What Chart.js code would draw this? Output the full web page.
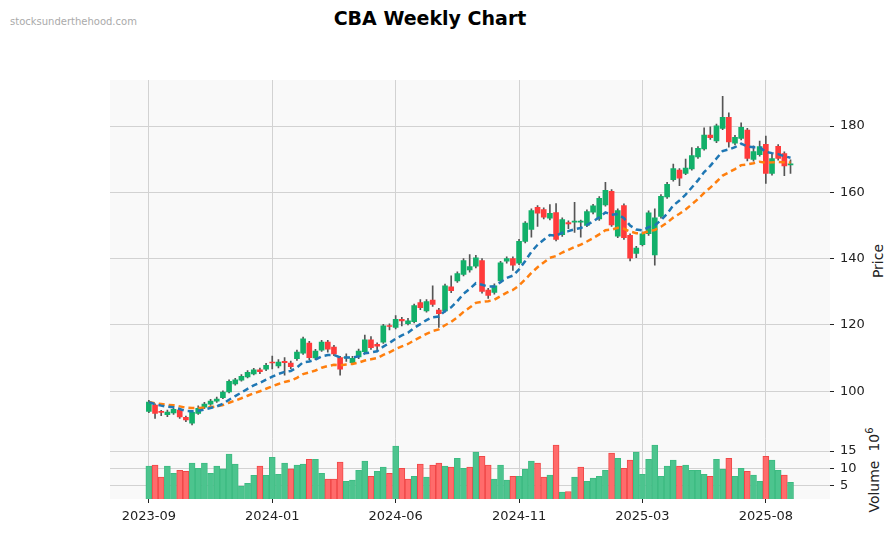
<!DOCTYPE html>
<html><head><meta charset="utf-8">
<script src="https://cdn.jsdelivr.net/npm/chart.js@4.4.1/dist/chart.umd.min.js"></script>
<style>
body{margin:0;background:#fff;font-family:"DejaVu Sans",sans-serif;width:895px;height:533px;position:relative;overflow:hidden}
#c1{position:absolute;left:0;top:0}
#c2{position:absolute;left:0;top:425px}
.t{position:absolute;white-space:nowrap}
</style></head><body>
<div class="t" style="left:0;width:860px;top:7px;text-align:center;font-size:19px;font-weight:bold;color:#000">CBA Weekly Chart</div>
<div class="t" style="left:10px;top:16px;font-size:10px;color:#aaa">stocksunderthehood.com</div>
<div class="t" style="left:878px;top:261px;transform:translate(-50%,-50%) rotate(-90deg);font-size:14px;color:#222">Price</div>
<div class="t" style="left:873px;top:470px;transform:translate(-50%,-50%) rotate(-90deg);font-size:14px;color:#222">Volume&nbsp;&nbsp;10<sup style="font-size:10px">6</sup></div>
<canvas id="c1" width="895" height="453"></canvas>
<canvas id="c2" width="895" height="108"></canvas>
<script>
const opens=[93.9,95.8,93.8,92.9,93.4,94.3,92.1,90.3,93.3,95.2,96.1,97.0,98.0,99.8,102.2,103.3,104.3,105.2,106.4,106.6,108.6,107.6,109.0,108.5,109.8,111.5,114.5,110.0,112.4,114.8,113.3,110.1,110.0,108.6,110.3,111.9,115.5,114.1,114.8,119.6,119.2,121.7,120.4,121.0,126.7,124.2,127.5,124.5,124.2,131.5,133.3,135.2,136.6,137.7,139.4,130.5,129.8,133.3,139.2,140.0,138.6,145.2,148.8,155.5,154.8,152.2,153.9,147.2,150.9,151.0,151.0,150.0,154.0,152.0,156.2,160.3,146.8,156.0,147.0,141.6,144.2,147.5,141.1,152.7,158.6,163.8,166.7,165.7,167.1,170.7,173.1,177.3,175.5,179.3,182.6,174.8,176.3,178.8,169.9,171.4,174.5,165.7,173.9,171.7,168.3];
const closes=[96.7,93.3,93.6,93.7,94.5,92.2,91.3,93.6,94.8,96.1,97.0,97.6,99.7,103.0,103.4,104.5,105.7,106.4,105.9,107.8,108.5,108.8,108.6,107.4,111.8,115.8,110.1,112.1,114.8,112.7,111.2,106.6,110.3,109.9,112.1,115.5,113.1,113.6,119.7,119.5,121.7,121.2,121.2,125.8,125.2,127.0,126.2,123.4,131.8,130.3,135.5,139.4,137.6,140.2,130.1,128.9,131.8,138.7,140.0,138.0,145.2,150.7,154.5,153.7,152.5,153.7,145.8,151.8,150.5,151.3,151.1,154.2,155.9,158.2,160.6,150.2,154.5,146.3,140.1,143.2,147.5,153.8,152.3,158.8,162.4,167.2,164.3,167.3,171.1,173.3,177.3,176.5,180.1,182.6,175.2,176.6,179.6,170.2,172.3,173.8,165.7,170.2,170.2,168.0,168.5];
const highs=[97.2,96.2,94.2,94.3,95.0,94.8,92.5,94.0,95.6,96.6,97.5,98.2,100.1,103.4,103.9,105.0,106.2,106.9,107.0,108.4,110.6,109.5,110.1,109.1,112.4,116.3,115.0,112.6,115.3,115.3,113.8,110.5,111.3,110.5,112.7,116.9,116.5,114.6,120.2,120.3,122.8,122.3,122.0,126.3,127.6,127.6,131.8,125.0,132.3,134.8,136.0,140.0,141.2,141.0,140.0,131.0,132.4,139.2,140.5,140.5,145.8,151.2,155.0,156.0,155.3,156.3,156.6,152.3,151.4,157.0,151.6,154.7,156.4,158.7,163.0,160.8,155.0,156.5,147.5,143.7,148.0,154.4,155.0,159.3,163.0,168.5,167.2,170.0,173.5,173.8,179.5,179.8,180.6,189.0,184.0,177.2,181.0,179.3,174.0,175.5,177.0,171.5,174.4,172.2,169.8];
const lows=[93.5,91.8,92.6,92.3,93.0,91.8,90.8,89.8,93.0,94.7,95.7,96.6,97.7,99.5,101.8,103.0,104.0,104.9,105.3,106.2,106.7,107.0,104.8,106.8,109.3,111.1,109.5,109.5,112.0,111.8,110.7,104.8,109.0,108.1,109.8,111.5,112.6,112.0,114.4,118.5,118.8,119.7,120.0,120.6,124.6,123.8,125.6,119.2,123.8,129.7,132.8,134.8,135.9,137.2,129.6,128.0,129.3,132.8,138.6,136.4,138.2,144.7,146.5,149.7,152.0,151.7,145.3,146.7,149.0,147.9,146.5,149.6,153.5,151.5,155.8,149.7,146.3,145.8,139.3,140.3,143.8,147.0,138.0,152.2,158.2,163.4,162.0,165.3,166.7,170.2,172.7,176.0,175.0,178.9,173.6,174.3,175.8,169.5,169.4,170.9,162.7,165.2,169.7,165.0,165.7];
const volumes=[10.6,10.9,7.4,10.6,8.5,9.4,9.1,11.5,10,11.5,8.5,10.6,9.8,14.1,11.2,4.8,5.6,7.9,10.6,7.9,13.2,8.2,11.5,9.8,10.9,11.2,12.6,12.6,8.5,6.8,6.8,11.8,6.2,6.5,9.4,12.1,7.6,9.1,10.3,8.5,16.5,10,6.8,7.6,11.2,7.4,10.9,11.5,10.6,10.3,12.9,10,10.3,14.7,13.5,10.9,6.8,10.9,6.5,7.6,7.6,9.7,12.1,11.5,7.4,8,16.8,3,3.2,7.4,10.3,6.2,7.1,7.6,9.4,14.4,12.9,10,12.4,14.7,8.2,12.6,16.8,7.6,10.6,12.4,10.6,10.9,9.4,9.4,8.2,7.6,12.6,9.7,12.9,7.6,10,9.1,8,6.2,13.5,12.4,9.4,8,5.9];
const volUp=[1,0,0,1,1,0,0,1,1,1,1,1,1,1,1,1,1,1,0,1,1,1,1,0,1,1,0,1,1,0,0,0,1,1,1,1,0,1,1,0,1,0,0,1,0,1,0,0,1,0,1,1,0,1,0,0,1,1,1,0,1,1,1,0,0,1,0,1,0,1,0,1,1,1,1,0,1,0,0,1,1,1,1,1,1,1,0,1,1,1,1,0,1,1,0,1,1,0,1,1,0,1,1,0,1];
const tickIdx=[0,20,40,60,80,100];
const tickText=['2023-09','2024-01','2024-06','2024-11','2025-03','2025-08'];
const priceTicks=[100,120,140,160,180];
const volTicks=[5,10,15];

const GREEN='#12b06a',RED='#ff3b3b';
function ema(arr,span){const a=2/(span+1);let out=[],v=arr[0];arr.forEach((x,i)=>{v=i?a*x+(1-a)*v:x;out.push(v);});return out;}
const emaFast=ema(closes,10), emaSlow=ema(closes,20);
const idx=closes.map((_,i)=>i);
const up=idx.map(i=>closes[i]>=opens[i]);
const XMIN=-6.3,XMAX=110.4;
const gridC='#d2d2d2';
const fontT={family:'DejaVu Sans',size:13};
Chart.defaults.animation=false;
const bg={id:'bg',beforeDraw(c){const a=c.chartArea,x=c.ctx;x.save();x.fillStyle='#f9f9f9';x.fillRect(a.left,a.top,a.right-a.left,a.bottom-a.top);x.restore();}};
new Chart(document.getElementById('c1'),{
 data:{datasets:[
  {type:'bar',data:idx.map(i=>({x:i,y:[lows[i],highs[i]]})),backgroundColor:'#555',barThickness:1,grouped:false,order:3},
  {type:'bar',data:idx.map(i=>({x:i,y:[opens[i],closes[i]]})),backgroundColor:idx.map(i=>up[i]?GREEN:RED),barThickness:5,minBarLength:1,grouped:false,order:2},
  {type:'line',data:idx.map(i=>({x:i,y:emaFast[i]})),borderColor:'#1f77b4',borderWidth:2.5,borderDash:[6,4],pointRadius:0,order:1,tension:0},
  {type:'line',data:idx.map(i=>({x:i,y:emaSlow[i]})),borderColor:'#ff7f0e',borderWidth:2.5,borderDash:[6,4],pointRadius:0,order:1,tension:0}
 ]},
 options:{responsive:false,layout:{padding:{left:110,top:80,bottom:0,right:0}},
  plugins:{legend:{display:false},tooltip:{enabled:false}},
  scales:{
   x:{type:'linear',min:XMIN,max:XMAX,offset:false,afterBuildTicks:s=>{s.ticks=tickIdx.map(v=>({value:v}));},
      ticks:{display:false},grid:{color:gridC,drawTicks:false,offset:false},border:{display:false},afterFit:s=>{s.height=0;}},
   y:{position:'right',min:85.5,max:193.9,afterBuildTicks:s=>{s.ticks=priceTicks.map(v=>({value:v}));},
      ticks:{color:'#222',font:fontT,padding:6},grid:{color:gridC,tickColor:'#222',tickLength:4},border:{display:false},afterFit:s=>{s.width=65;}}
  }},
 plugins:[bg]
});
new Chart(document.getElementById('c2'),{
 type:'bar',
 data:{datasets:[{data:idx.map(i=>({x:i,y:volumes[i]})),backgroundColor:idx.map(i=>volUp[i]?'#4cc48e':'#ff6b6b'),borderColor:idx.map(i=>volUp[i]?'#3dbb82':'#f04848'),borderWidth:1,barThickness:6}]},
 options:{responsive:false,layout:{padding:{left:110,top:0,right:0,bottom:0}},
  plugins:{legend:{display:false},tooltip:{enabled:false}},
  scales:{
   x:{type:'linear',min:XMIN,max:XMAX,offset:false,afterBuildTicks:s=>{s.ticks=tickIdx.map(v=>({value:v}));},
      ticks:{color:'#222',font:fontT,padding:6,callback:(v)=>tickText[tickIdx.indexOf(v)]},grid:{color:gridC,tickColor:'#222',tickLength:4,offset:false},border:{display:false},afterFit:s=>{s.height=34;}},
   y:{position:'right',min:1,max:18.6,afterBuildTicks:s=>{s.ticks=volTicks.map(v=>({value:v}));},
      ticks:{color:'#222',font:fontT,padding:6},grid:{color:gridC,tickColor:'#222',tickLength:4},border:{display:false},afterFit:s=>{s.width=65;}}
  }},
 plugins:[bg]
});
</script></body></html>
